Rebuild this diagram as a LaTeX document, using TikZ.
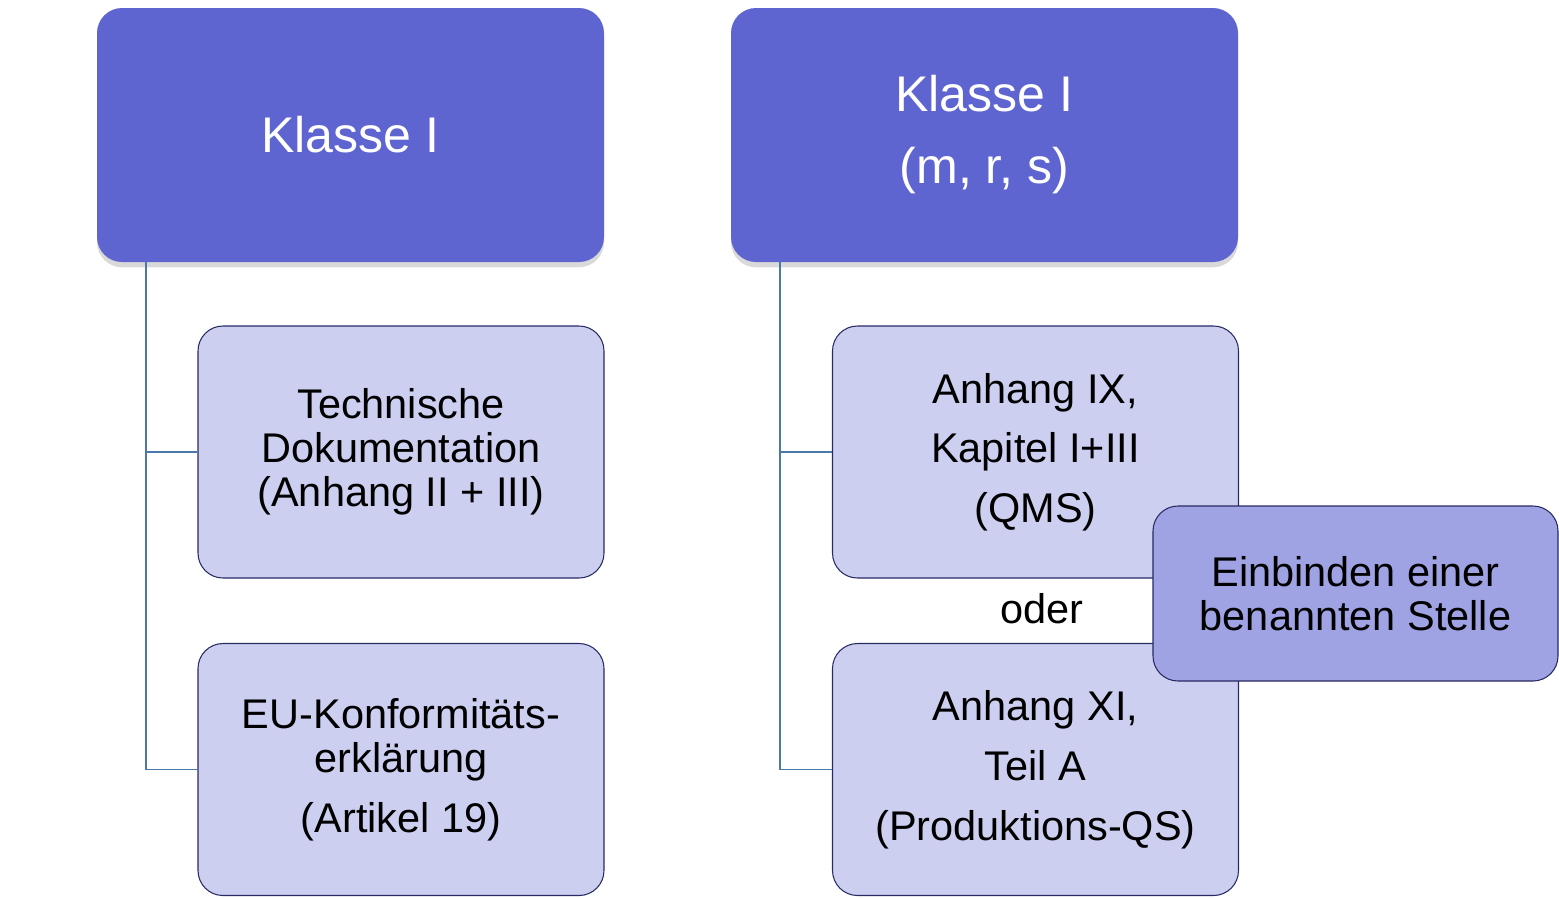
\documentclass[tikz,border=0pt]{standalone}
\usepackage{fontspec}
\setmainfont{Liberation Sans}
\usetikzlibrary{shadows}

\definecolor{klassefarbe}{RGB}{94,100,208}
\definecolor{hellfarbe}{RGB}{205,207,240}
\definecolor{stellefarbe}{RGB}{159,162,227}
\definecolor{randfarbe}{RGB}{40,42,100}
\definecolor{astfarbe}{RGB}{74,120,168}

\tikzset{
  klassebox/.style={rectangle, rounded corners=0.5cm, fill=klassefarbe, text=white,
    minimum width=10.14cm, minimum height=5.08cm, align=center,
    font=\fontsize{28.5}{41}\selectfont,
    drop shadow={shadow xshift=0pt, shadow yshift=-3pt, opacity=0.3}},
  nachweis/.style={rectangle, rounded corners=0.5cm, draw=randfarbe, line width=0.6pt,
    fill=hellfarbe, minimum width=8.12cm, minimum height=5.04cm, align=center,
    font=\fontsize{23.6}{25}\selectfont},
  stellebox/.style={nachweis, fill=stellefarbe, minimum width=8.1cm, minimum height=3.5cm},
  ast/.style={draw=astfarbe, line width=1pt}
}

\begin{document}
\begin{tikzpicture}
  \useasboundingbox (0,0) rectangle (31.18,-17.94);

  % Klasse I
  \node[klassebox] (klasse) at (7.01,-2.70) {Klasse I};
  \node[nachweis] (technik) at (8.02,-9.04)
    {Technische\\Dokumentation\\(Anhang II + III)};
  \node[nachweis] (erklaerung) at (8.02,-15.39)
    {EU-Konformitäts-\\erklärung\\[9pt](Artikel 19)};
  \draw[ast] (klasse.south west) ++(0.98,0) |- (technik.west);
  \draw[ast] (klasse.south west) ++(0.98,0) |- (erklaerung.west);

  % Klasse I (m, r, s)
  \node[klassebox] (klassemrs) at (19.69,-2.70) {Klasse I\\(m, r, s)};
  \node[nachweis] (qms) at (20.71,-9.04)
    {Anhang IX,\\[9pt]Kapitel I+III\\[9pt](QMS)};
  \node[nachweis] (produktion) at (20.71,-15.39)
    {Anhang XI,\\[9pt]Teil A\\[9pt](Produktions-QS)};
  \node[font=\fontsize{23.6}{25}\selectfont] (oder) at (20.84,-12.18) {oder};
  \draw[ast] (klassemrs.south west) ++(0.98,0) |- (qms.west);
  \draw[ast] (klassemrs.south west) ++(0.98,0) |- (produktion.west);

  % benannte Stelle
  \node[stellebox] (stelle) at (27.11,-11.87) {Einbinden einer\\benannten Stelle};
\end{tikzpicture}
\end{document}
